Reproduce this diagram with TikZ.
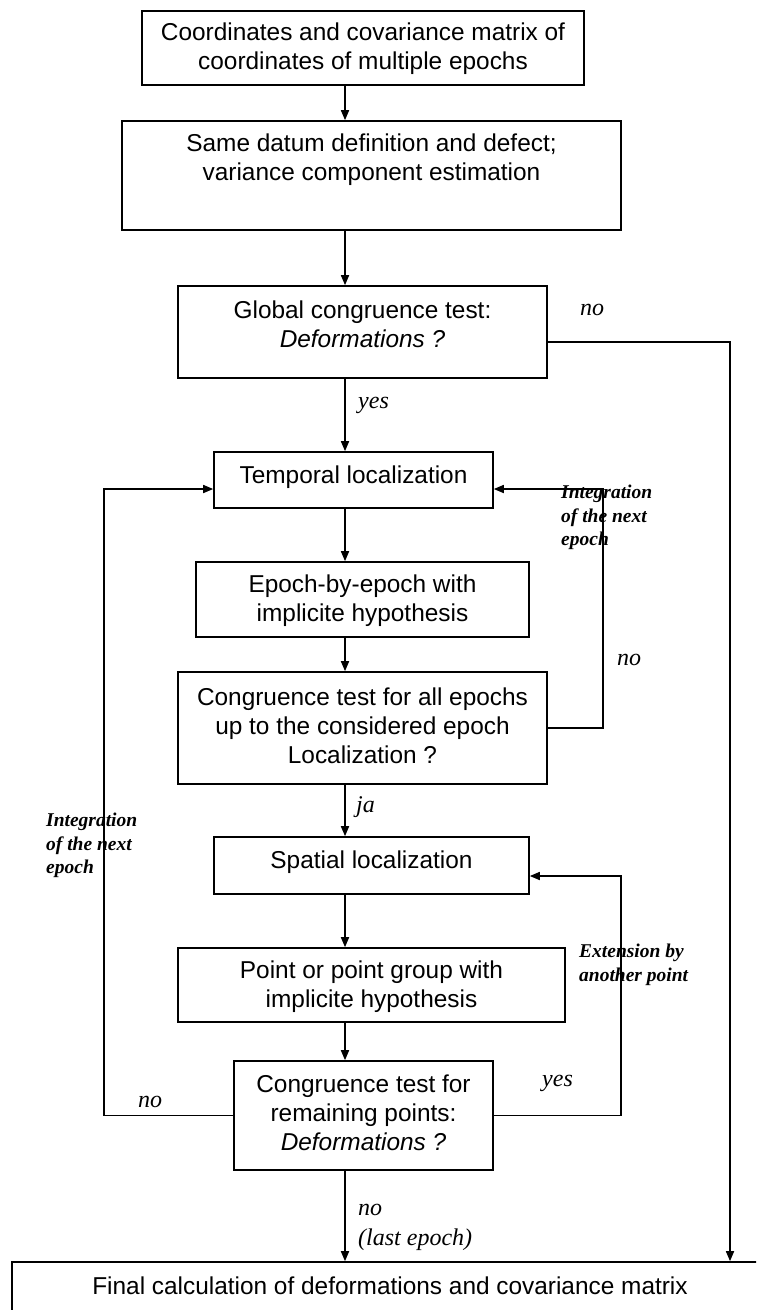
\documentclass[tikz,border=0pt]{standalone}
\usepackage{fontspec}
\setmainfont{Liberation Serif}
\newfontfamily\boxfont{Liberation Sans}
\usetikzlibrary{arrows.meta}
\begin{document}
\begin{tikzpicture}[x=1pt,y=-1pt,
  flowbox/.style={draw=black, line width=1.6pt, rectangle, inner sep=0pt},
  boxtext/.style={font=\boxfont\fontsize{24.4}{28.8}\selectfont, align=center, inner sep=0pt},
  tag/.style={font=\itshape\fontsize{24}{30}\selectfont, align=left, inner sep=0pt, anchor=west},
  note/.style={font=\bfseries\itshape\fontsize{19.5}{23.5}\selectfont, align=left, inner sep=0pt, anchor=north west},
  flow/.style={line width=1.6pt, -{Triangle[length=10pt,width=8pt]}}]

\useasboundingbox (0,0) rectangle (756,1310);
\clip (0,0) rectangle (756,1310);
\fill[white] (0,0) rectangle (756,1310);

% process boxes
\node[flowbox, minimum width=442pt, minimum height=74pt]  (b1) at (363,48) {};
\node[flowbox, minimum width=499pt, minimum height=109pt] (b2) at (371.5,175.5) {};
\node[flowbox, minimum width=369pt, minimum height=92pt]  (b3) at (362.5,332) {};
\node[flowbox, minimum width=279pt, minimum height=56pt]  (b4) at (353.5,480) {};
\node[flowbox, minimum width=333pt, minimum height=75pt]  (b5) at (362.5,599.5) {};
\node[flowbox, minimum width=369pt, minimum height=112pt] (b6) at (362.5,728) {};
\node[flowbox, minimum width=315pt, minimum height=57pt]  (b7) at (371.5,865.5) {};
\node[flowbox, minimum width=387pt, minimum height=74pt]  (b8) at (371.5,985) {};
\node[flowbox, minimum width=259pt, minimum height=109pt] (b9) at (363.5,1115.5) {};
\node[flowbox, minimum width=758pt, minimum height=68pt]  (final) at (391,1296) {};

% box texts
\node[boxtext] (t1) at (363,49) {Coordinates and covariance matrix of\\coordinates of multiple epochs};
\node[boxtext] (t2) at (371.5,159.5) {Same datum definition and defect;\\variance component estimation};
\node[boxtext] (t3) at (362.5,324) {Global congruence test:\\\textit{Deformations ?}};
\node[boxtext] (t4) at (353.5,477) {Temporal localization};
\node[boxtext] (t5) at (362.5,601) {Epoch-by-epoch with\\implicite hypothesis};
\node[boxtext] (t6) at (362.5,726) {Congruence test for all epochs\\up to the considered epoch\\Localization ?};
\node[boxtext] (t7) at (371.5,862) {Spatial localization};
\node[boxtext] (t8) at (371.5,987) {Point or point group with\\implicite hypothesis};
\node[boxtext] (t9) at (363.5,1113) {Congruence test for\\remaining points:\\\textit{Deformations ?}};
\node[boxtext] (tf) at (390,1286) {Final calculation of deformations and covariance matrix};

% connector columns
\coordinate (col) at (345,0);
\coordinate (rcol) at (730,0);

% main flow
\draw[flow] (b1.south -| col) -- (b2.north -| col);
\draw[flow] (b2.south -| col) -- (b3.north -| col);
\draw[flow] (b3.south -| col) -- (b4.north -| col);
\draw[flow] (b4.south -| col) -- (b5.north -| col);
\draw[flow] (b5.south -| col) -- (b6.north -| col);
\draw[flow] (b6.south -| col) -- (b7.north -| col);
\draw[flow] (b7.south -| col) -- (b8.north -| col);
\draw[flow] (b8.south -| col) -- (b9.north -| col);
\draw[flow] (b9.south -| col) -- (final.north -| col);

% branches and loops
\draw[flow] ([yshift=-10pt]b3.east) -| (final.north -| rcol);
\draw[flow] (b6.east) -- ++(55,0) |- ([yshift=-9pt]b4.east);
\draw[flow] (b9.west) -- ++(-129,0) |- ([yshift=-9pt]b4.west);
\draw[flow] (b9.east) -- ++(127,0) |- ([yshift=-10.5pt]b7.east);

% branch labels
\node[tag] (l1) at (580,310) {no};
\node[tag] (l2) at (358,405) {yes};
\node[tag] (l3) at (617,660) {no};
\node[tag] (l4) at (356,807) {ja};
\node[tag] (l5) at (138,1102) {no};
\node[tag] (l6) at (542,1083) {yes};
\node[tag, anchor=north west] (l7) at (358,1204) {no\\(last epoch)};

\node[note] (n1) at (561,485) {Integration\\of the next\\epoch};
\node[note] (n2) at (46,813) {Integration\\of the next\\epoch};
\node[note] (n3) at (579,944) {Extension by\\another point};
\end{tikzpicture}
\end{document}
